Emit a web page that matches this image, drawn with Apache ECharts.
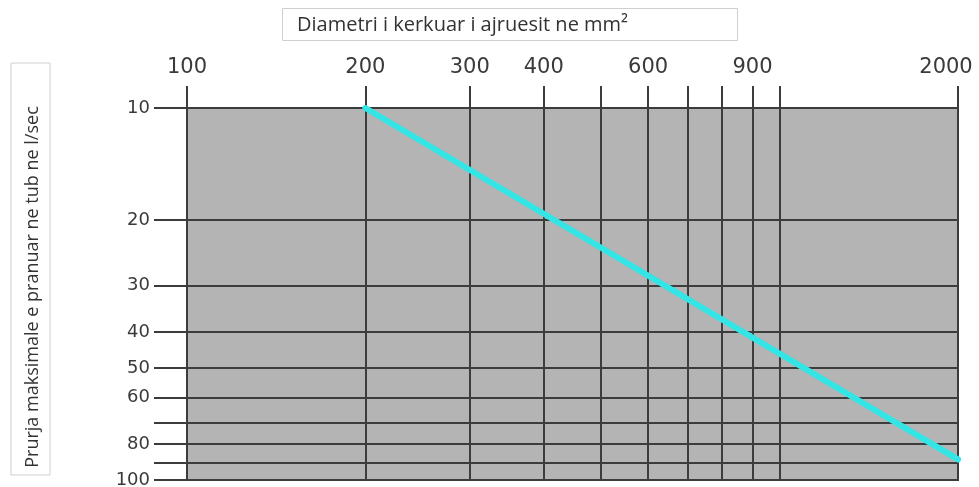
<!DOCTYPE html>
<html>
<head>
<meta charset="utf-8">
<script src="https://cdn.jsdelivr.net/npm/echarts@6/dist/echarts.min.js"></script>
<style>
html, body { margin: 0; padding: 0; background: #fff; }
#chart { width: 979px; height: 487px; }
</style>
</head>
<body>
<div id="chart"></div>
<script>
// diameter (mm2), top axis
var xLines = [100, 200, 300, 400, 500, 600, 700, 800, 900, 1000, 2000];
var xLabels = [100, 200, 300, 400, 600, 900, 2000];
// flow (l/sec), left axis
var yLines = [10, 20, 30, 40, 50, 60, 70, 80, 90, 100];
var yLabels = [10, 20, 30, 40, 50, 60, 80, 100];
// the cyan reading line
var lineX = [200, 2000];
var lineY = [10, 88];

var myChart = echarts.init(document.getElementById('chart'));
var gridColor = '#3c3c3c';
var labelFont = { fontFamily: 'DejaVu Sans', fontSize: 21, color: '#3a3a3a' };

var option = {
    backgroundColor: '#ffffff',
    animation: false,
    title: {
        text: 'Diametri i kerkuar i ajruesit ne mm\u00b2',
        left: 282,
        top: 8,
        padding: [7, 110, 6, 15],
        borderColor: '#cfcfcf',
        borderWidth: 1,
        textStyle: {
            fontFamily: 'Open Sans',
            fontSize: 20,
            fontWeight: 'normal',
            color: '#333'
        }
    },
    graphic: [
        {
            type: 'rect',
            shape: { x: 11, y: 63, width: 39, height: 412 },
            style: { fill: '#fff', stroke: '#cfcfcf', lineWidth: 1 }
        },
        {
            type: 'text',
            x: 33,
            y: 287,
            rotation: Math.PI / 2,
            style: {
                text: 'Prurja maksimale e pranuar ne tub ne l/sec',
                fontFamily: 'Open Sans',
                fontSize: 18,
                fill: '#333',
                align: 'center',
                verticalAlign: 'middle'
            }
        }
    ],
    grid: {
        left: 187,
        right: 21,
        top: 108,
        bottom: 7,
        outerBoundsMode: 'none',
        containLabel: false,
        show: true,
        backgroundColor: '#b4b4b4',
        borderColor: gridColor,
        borderWidth: 2
    },
    xAxis: {
        type: 'log',
        logBase: 10,
        position: 'top',
        min: 100,
        max: 2000,
        axisLine: { show: true, lineStyle: { color: gridColor, width: 2 } },
        axisTick: {
            show: true,
            customValues: xLines,
            length: 22,
            lineStyle: { color: gridColor, width: 2 }
        },
        axisLabel: {
            customValues: xLabels,
            formatter: function (v) {
                // last label sits a little left of its line so it stays on the page
                return v >= 2000 ? '{end|' + v + '}' : String(v);
            },
            rich: {
                end: Object.assign({ padding: [0, 24, 0, 0] }, labelFont)
            },
            margin: 30,
            fontFamily: labelFont.fontFamily,
            fontSize: labelFont.fontSize,
            color: labelFont.color
        },
        splitLine: { show: true, lineStyle: { color: gridColor, width: 2 } },
        minorTick: { show: false },
        minorSplitLine: { show: false }
    },
    yAxis: {
        type: 'log',
        logBase: 10,
        inverse: true,
        min: 10,
        max: 100,
        axisLine: { show: true, lineStyle: { color: gridColor, width: 2 } },
        axisTick: {
            show: true,
            customValues: yLines,
            length: 33,
            lineStyle: { color: gridColor, width: 2 }
        },
        axisLabel: {
            customValues: yLabels,
            formatter: function (v) { return String(v); },
            margin: 37,
            fontFamily: 'DejaVu Sans',
            fontSize: 18,
            color: '#3a3a3a'
        },
        splitLine: { show: true, lineStyle: { color: gridColor, width: 2 } }
    },
    series: [
        {
            type: 'line',
            data: lineX.map(function (x, i) { return [x, lineY[i]]; }),
            symbol: 'none',
            lineStyle: { color: '#33e5e5', width: 6, cap: 'round' },
            z: 5
        }
    ]
};
myChart.setOption(option);
</script>
</body>
</html>
